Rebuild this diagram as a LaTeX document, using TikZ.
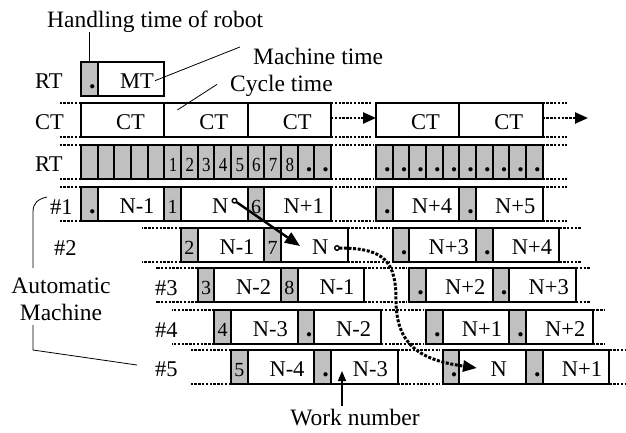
\documentclass[tikz,border=0pt]{standalone}
\usepackage{fontspec}
\setmainfont{Liberation Serif}
\usetikzlibrary{arrows.meta}

\definecolor{cellgray}{RGB}{192,192,192}

\tikzset{
  cellbox/.style={draw, line width=2pt, minimum height=34pt, inner sep=0pt, outer sep=0pt, anchor=north west},
  gcell/.style={cellbox, fill=cellgray, minimum width=16.667pt},
  wcell/.style={cellbox, fill=white, minimum width=66.667pt},
  ctcell/.style={cellbox, fill=white, minimum width=83.333pt},
  txt/.style={font=\fontsize{22.5}{24}\selectfont, inner sep=0pt, anchor=base},
  note/.style={font=\fontsize{23.5}{26}\selectfont, inner sep=0pt, anchor=base west},
  digit/.style={font=\fontsize{20}{22}\selectfont, inner sep=0pt, anchor=base},
  rtdigit/.style={font=\fontsize{20}{22}\selectfont, inner sep=0pt, anchor=base, xscale=0.85},
  dotlbl/.style={font=\fontsize{26}{28}\selectfont\bfseries, inner sep=0pt, anchor=base, xshift=3pt},
  ext/.style={line width=2.4pt, dash pattern=on 2.4pt off 1.4pt},
  pointer/.style={line width=0.8pt},
}

% one machine slot: gray handling cell followed by white machining cell
% #1 name, #2 x, #3 top, #4 style of gray label, #5 gray label, #6 work number
\newcommand{\mblk}[6]{%
  \node[gcell] (#1g) at (#2,#3) {};
  \node[wcell] (#1w) at ({#2+16.667},#3) {};
  \node[#4] (#1gl) at ({#2+8.33},{#3+26}) {#5};
  \node[txt] (#1wl) at ({#2+56},{#3+26}) {#6};
}
% dotted continuation along the top and bottom edge of a row
\newcommand{\lead}[2]{%
  \draw[ext] (#1.north west) -- ++(-#2,0);
  \draw[ext] (#1.south west) -- ++(-#2,0);
}
\newcommand{\tail}[2]{%
  \draw[ext] (#1.north east) -- ++(#2,0);
  \draw[ext] (#1.south east) -- ++(#2,0);
}
\newcommand{\gapline}[2]{%
  \draw[ext, shorten >=3pt] (#1.north east) -- (#2.north west);
  \draw[ext, shorten >=3pt] (#1.south east) -- (#2.south west);
}

\begin{document}
\begin{tikzpicture}[x=1pt, y=-1pt]
\useasboundingbox (0,0) rectangle (626,432);

% ---- robot handling + machine time ----
\node[gcell] (rtg) at (81,62) {};
\node[wcell] (rtw) at (97.667,62) {};
\node[dotlbl] (rtgl) at (89.33,88) {.};
\node[txt] (rtwl) at (137,88) {MT};

% ---- cycle time row ----
\foreach \i/\x in {1/81, 2/164.333, 3/247.667, 4/376, 5/459.333} {
  \node[ctcell] (ct\i) at (\x,103) {};
  \node[txt] (ctl\i) at ({\x+49.5},129) {CT};
}
\draw[ext] (ct1.north west) -- ++(-21,0);
\draw[ext] (ct1.south west) -- ++(-21,0);
\draw[ext] (ct3.north east) -- ++(41,0);
\draw[ext] (ct3.south east) -- ++(41,0);
\draw[ext] (ct5.north east) -- ++(24,0);
\draw[ext] (ct5.south east) -- ++(24,0);
\coordinate (ctend) at (588,118);
\draw[ext, -{Triangle[length=13pt,width=11pt]}] ([yshift=2pt]ct3.east) -- ([yshift=2pt]ct4.west);
\draw[ext, -{Triangle[length=13pt,width=11pt]}] ([yshift=2pt]ct5.east) -- (ctend);

% ---- robot timeline ----
\foreach \i in {0,...,14} \node[gcell] (rta\i) at ({81+\i*16.667},145) {};
\foreach \i in {0,...,9} \node[gcell] (rtb\i) at ({376+\i*16.667},145) {};
\foreach \i/\d in {5/1,6/2,7/3,8/4,9/5,10/6,11/7,12/8}
  \node[rtdigit] (rtal\i) at ({81+\i*16.667+8.8},171) {\d};
\foreach \i in {13,14} \node[dotlbl] (rtal\i) at ({81+\i*16.667+8.33},171) {.};
\foreach \i in {0,...,9} \node[dotlbl] (rtbl\i) at ({376+\i*16.667+8.33},171) {.};
\lead{rta0}{21}
\draw[ext] (rta14.north east) -- ++(42,0);
\draw[ext] (rta14.south east) -- ++(42,0);
\tail{rtb9}{24}

% ---- machine #1 ----
\mblk{aA}{81}{187}{dotlbl}{.}{N-1}
\mblk{aB}{164.333}{187}{digit}{1}{N}
\mblk{aC}{247.667}{187}{digit}{6}{N+1}
\mblk{aD}{376}{187}{dotlbl}{.}{N+4}
\mblk{aE}{459.333}{187}{dotlbl}{.}{N+5}
\lead{aAg}{21}
\gapline{aCw}{aDg}
\tail{aEw}{24}

% ---- machine #2 ----
\mblk{bA}{181}{228}{digit}{2}{N-1}
\mblk{bB}{264.333}{228}{digit}{7}{N}
\mblk{bD}{392.667}{228}{dotlbl}{.}{N+3}
\mblk{bE}{476}{228}{dotlbl}{.}{N+4}
\lead{bAg}{39}
\gapline{bBw}{bDg}
\tail{bEw}{22}

% ---- machine #3 ----
\mblk{cA}{197.667}{268}{digit}{3}{N-2}
\mblk{cB}{281}{268}{digit}{8}{N-1}
\mblk{cD}{409.333}{268}{dotlbl}{.}{N+2}
\mblk{cE}{492.667}{268}{dotlbl}{.}{N+3}
\lead{cAg}{42}
\gapline{cBw}{cDg}
\tail{cEw}{14}

% ---- machine #4 ----
\mblk{dA}{214.333}{310}{digit}{4}{N-3}
\mblk{dB}{297.667}{310}{dotlbl}{.}{N-2}
\mblk{dD}{426}{310}{dotlbl}{.}{N+1}
\mblk{dE}{509.333}{310}{dotlbl}{.}{N+2}
\lead{dAg}{42}
\gapline{dBw}{dDg}
\tail{dEw}{12}

% ---- machine #5 ----
\mblk{eA}{231}{350}{digit}{5}{N-4}
\mblk{eB}{314.333}{350}{dotlbl}{.}{N-3}
\mblk{eD}{442.667}{350}{dotlbl}{.}{N}
\mblk{eE}{526}{350}{dotlbl}{.}{N+1}
\lead{eAg}{41}
\gapline{eBw}{eDg}
\tail{eEw}{18}

% ---- row labels ----
\node[txt, anchor=base west] (lRT1) at (35,88) {RT};
\node[txt, anchor=base west] (lCT) at (35,129) {CT};
\node[txt, anchor=base west] (lRT2) at (35,171) {RT};
\node[txt, anchor=base west] (l1) at (50,214) {\#1};
\node[txt, anchor=base west] (l2) at (54,255) {\#2};
\node[txt, anchor=base west] (l3) at (155,295) {\#3};
\node[txt, anchor=base west] (l4) at (155,337) {\#4};
\node[txt, anchor=base west] (l5) at (155,376) {\#5};

% ---- annotations ----
\node[note] (handling) at (47,27) {Handling time of robot};
\node[note] (mtime) at (253,64) {Machine time};
\node[note] (ctime) at (230,91) {Cycle time};
\node[note, anchor=base] (am1) at (61,293) {Automatic};
\node[note, anchor=base] (am2) at (61,320) {Machine};
\node[note, anchor=base] (wn) at (355,425) {Work number};

\draw[pointer] (rtg.north |- handling.south) -- (rtg.north);
\draw[pointer] ([xshift=1pt]rtwl.east) -- ([xshift=-13pt,yshift=9pt]mtime.west);
\draw[pointer] ([xshift=13pt,yshift=-7pt]ct2.north west) -- ([xshift=-13pt,yshift=1pt]ctime.west);

% bracket grouping the automatic machines
\coordinate (brTop) at (47,197);
\coordinate (brMid) at (33,268);
\coordinate (brLow) at (33,325);
\coordinate (brEnd) at (137,365);
\draw[pointer] (brTop) .. controls (38,199) and (33,203) .. (33,212) -- (brMid);
\draw[pointer] (brLow) -- (33,350) -- (brEnd);

% work number pointer
\coordinate (wnTip) at (342,371);
\draw[line width=1.2pt, -{Triangle[length=10pt,width=8pt]}] (wnTip |- wn.north) ++(0,-3) -- (wnTip);

% transfer of work N from #1 to #2 and on to #5
\coordinate (nA) at (232,199);
\coordinate (nB) at (300,246);
\draw[line width=2.4pt, {Circle[open,length=6pt,width=6pt,line width=1.4pt]}-{Triangle[length=15pt,width=12pt]}] (nA) -- (nB);
\coordinate (nC) at (334,248);
\coordinate (nD) at (477,368);
\draw[line width=3pt, dash pattern=on 3pt off 1.6pt,
      {Circle[open,length=6pt,width=6pt,line width=1.4pt]}-{Triangle[length=14pt,width=11pt]}]
  (nC) .. controls (385,248) and (396,262) .. (396,300)
       .. controls (396,345) and (420,360) .. (nD);

\end{tikzpicture}
\end{document}
